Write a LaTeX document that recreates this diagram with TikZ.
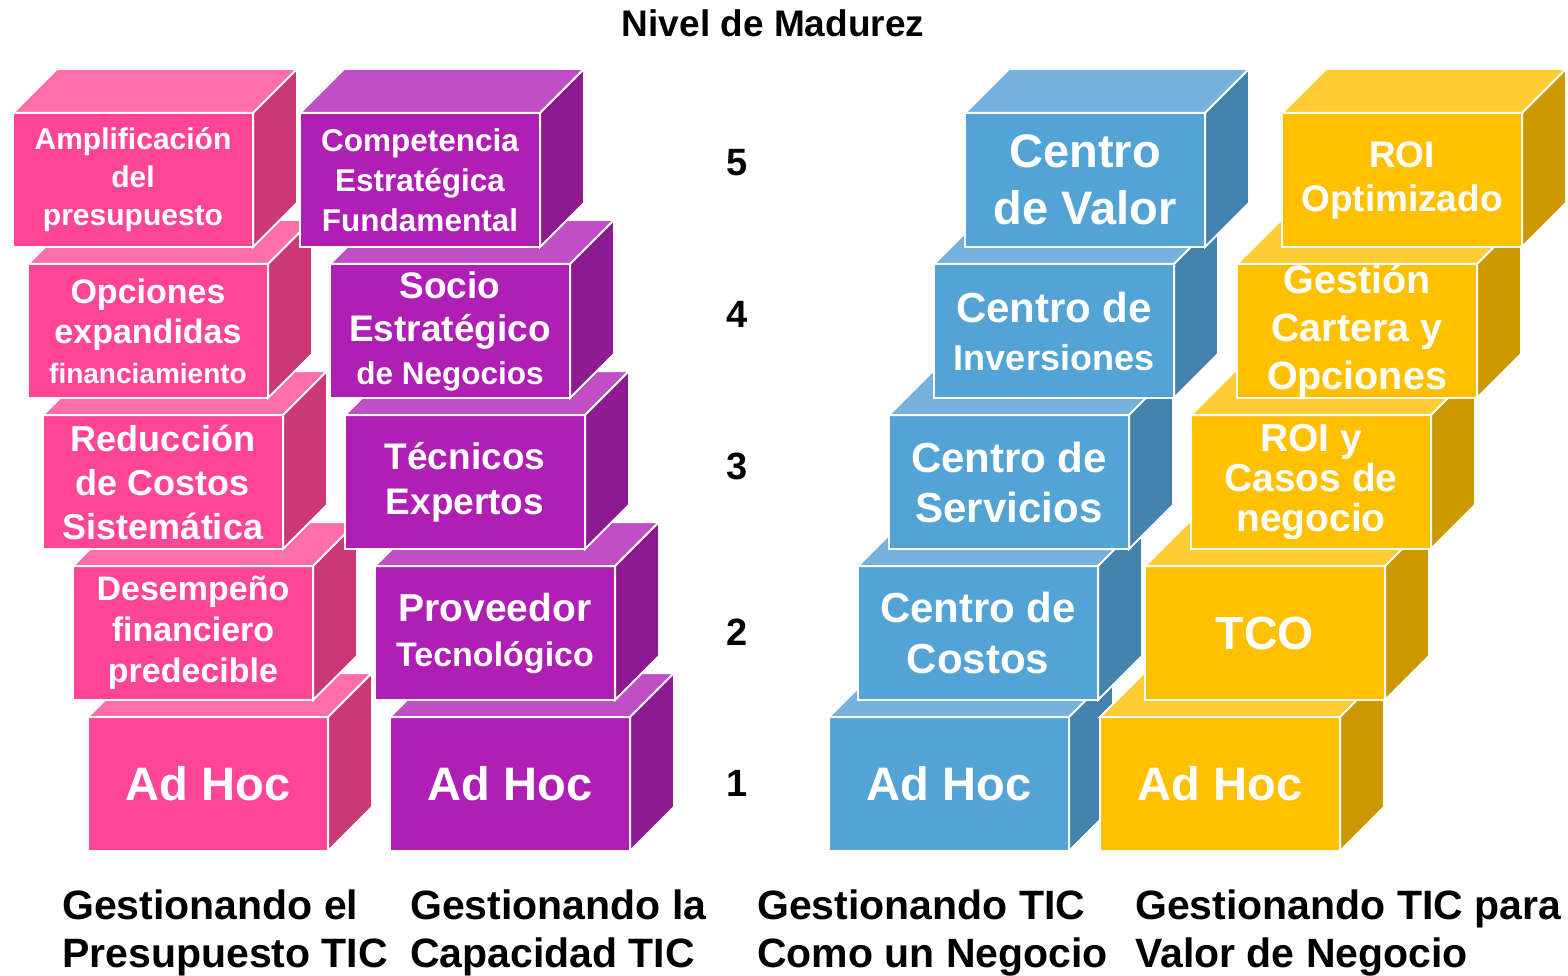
\documentclass[tikz,border=0pt]{standalone}
\usepackage{fontspec}
\setmainfont{Liberation Sans}

\definecolor{rosaF}{HTML}{FF4595}
\definecolor{rosaT}{HTML}{FF6EA8}
\definecolor{rosaS}{HTML}{CC3776}
\definecolor{lilaF}{HTML}{B01FB4}
\definecolor{lilaT}{HTML}{C04EC4}
\definecolor{lilaS}{HTML}{8E1A91}
\definecolor{azulF}{HTML}{53A3D4}
\definecolor{azulT}{HTML}{75B3DE}
\definecolor{azulS}{HTML}{4382AD}
\definecolor{oroF}{HTML}{FFC000}
\definecolor{oroT}{HTML}{FFCC33}
\definecolor{oroS}{HTML}{CC9A00}

\begin{document}
\begin{tikzpicture}[x=1pt, y=-1pt]
  \tikzset{
    cara/.style={
      draw=white, line width=2pt
    },
    frente/.style={
      cara, minimum width=240pt, minimum height=134pt, inner sep=0pt,
      outer sep=0pt, align=center, text=white
    },
    nivel/.style={
      font=\bfseries\fontsize{38}{44}\selectfont
    },
    pie/.style={
      font=\bfseries\fontsize{41}{48}\selectfont, align=left, anchor=base west, inner sep=0pt
    }
  }
  \useasboundingbox (0,0) rectangle (1568,976);

  \node [font=\bfseries\fontsize{37}{44}\selectfont] (titulo) at (773,23) {Nivel de Madurez};

  % bottom up, so that each cube covers the top of the one below it
  \foreach \col/\i/\x/\fs/\ls/\txt in {
    rosa/1/208/47/56/{Ad Hoc},
    rosa/2/193/34/41/{Desempeño\\financiero\\predecible},
    rosa/3/163/36/44/{Reducción\\de Costos\\Sistemática},
    rosa/4/148/34/40/{Opciones\\expandidas\\{\fontsize{28}{32}\selectfont financiamiento}},
    rosa/5/133/30/38/{Amplificación\\del\\presupuesto},
    lila/1/510/47/56/{Ad Hoc},
    lila/2/495/39/45/{Proveedor\\{\fontsize{34}{40}\selectfont Tecnológico}},
    lila/3/465/37/45/{Técnicos\\Expertos},
    lila/4/450/37/43/{Socio\\Estratégico\\{\fontsize{31.5}{38}\selectfont de Negocios}},
    lila/5/420/31.5/40/{Competencia\\Estratégica\\Fundamental},
    azul/1/949/47/56/{Ad Hoc},
    azul/2/978/42/51/{Centro de\\Costos},
    azul/3/1009/42/50/{Centro de\\Servicios},
    azul/4/1054/42/48/{Centro de\\{\fontsize{36}{43}\selectfont Inversiones}},
    azul/5/1085/47/57/{Centro\\de Valor},
    oro/1/1220/47/56/{Ad Hoc},
    oro/2/1265/46.5/56/{TCO},
    oro/3/1311/39/40/{ROI y\\Casos de\\negocio},
    oro/4/1357/39.5/48/{Gestión\\Cartera y\\Opciones},
    oro/5/1402/37/44/{ROI\\Optimizado}} {
    \node [frente, fill=\col F, font=\bfseries\fontsize{\fs}{\ls}\selectfont] (\col\i) at (\x,935-151*\i) {\txt};
    \draw [cara, fill=\col T] (\col\i.north west) -- ++(44,-44) -- ++(240,0) -- (\col\i.north east) -- cycle;
    \draw [cara, fill=\col S] (\col\i.north east) -- ++(44,-44) -- ++(0,134) -- (\col\i.south east) -- cycle;
  }

  \foreach \i/\y in {1/783, 2/632, 3/466, 4/314, 5/163} {
    \node [nivel] (n\i) at (737,\y) {\i};
  }

  \node [pie] (pie1) at (62,967) {Gestionando el\\Presupuesto TIC};
  \node [pie] (pie2) at (410,967) {Gestionando la\\Capacidad TIC};
  \node [pie] (pie3) at (757,967) {Gestionando TIC\\Como un Negocio};
  \node [pie] (pie4) at (1135,967) {Gestionando TIC para\\Valor de Negocio};
\end{tikzpicture}
\end{document}
